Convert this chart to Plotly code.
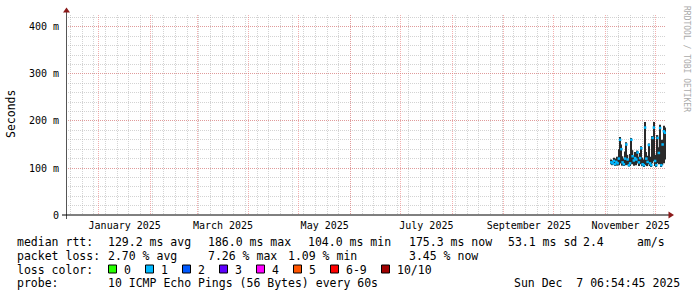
import plotly.graph_objects as go
import pandas as pd

# ---------------- data ----------------
end_time = pd.Timestamp('2025-12-07 06:54:45')
start_time = end_time - pd.Timedelta(days=360)

step_times = pd.date_range('2025-11-04 12:00', periods=44, freq='18h')
median_ms = [112, 110, 115, 108, 113, 110, 120, 160, 140, 112, 108, 120, 150, 118, 106,
             110, 160, 125, 116, 121, 118, 133, 112, 121, 142, 108, 106, 186, 120, 113,
             149, 110, 106, 164, 186, 115, 106, 164, 132, 185, 106, 150, 178, 175]
smoke_lo_ms = [108, 106, 108, 104, 107, 105, 106, 110, 110, 105, 104, 106, 108, 106, 103,
               104, 110, 108, 105, 108, 106, 110, 104, 108, 110, 104, 102, 112, 106, 104,
               108, 104, 102, 110, 115, 104, 102, 110, 108, 112, 102, 106, 110, 118]
smoke_hi_ms = [118, 116, 122, 118, 120, 124, 140, 166, 150, 125, 120, 135, 155, 128, 118,
               130, 164, 138, 126, 134, 130, 137, 124, 132, 146, 122, 118, 198, 134, 126,
               152, 124, 118, 168, 198, 128, 118, 170, 144, 192, 120, 160, 190, 186]
loss_pings = [1, 1, 1, 1, 1, 1, 1, 1, 1, 1, 1, 1, 1, 1, 1, 1, 1, 1, 1, 1, 1, 1,
              1, 1, 1, 1, 1, 1, 1, 1, 1, 1, 1, 1, 1, 1, 1, 1, 1, 1, 1, 1, 1, 1]

y_tick_vals = [0, 100, 200, 300, 400]
y_tick_text = ["0", "100 m", "200 m", "300 m", "400 m"]
month_label_text = ["January 2025", "March 2025", "May 2025", "July 2025",
                    "September 2025", "November 2025"]
month_label_months = ['2025-01-01', '2025-03-01', '2025-05-01', '2025-07-01',
                      '2025-09-01', '2025-11-01']

loss_color_labels = ["0", "1", "2", "3", "4", "5", "6-9", "10/10"]
loss_color_values = ["#26ff00", "#00b8ff", "#0059ff", "#5e00ff", "#ff00ff",
                     "#ff5500", "#ff0000", "#a10000"]
loss_color_of_count = {0: 0, 1: 1, 2: 2, 3: 3, 4: 4, 5: 5, 6: 6, 7: 6, 8: 6, 9: 6, 10: 7}

legend_line1 = ["median rtt:", "129.2 ms avg", "186.0 ms max", "104.0 ms min",
                "175.3 ms now", "53.1 ms sd", "2.4", "am/s"]
legend_line2 = ["packet loss:", "2.70 % avg", "7.26 % max", "1.09 % min", "3.45 % now"]
legend_line3_head = "loss color:"
legend_line4 = ["probe:", "10 ICMP Echo Pings (56 Bytes) every 60s"]
stamp_text = "Sun Dec\u00a0\u00a07 06:54:45 2025"

# ---------------- layout geometry ----------------
W, H = 697, 297
L, R, T, B = 66, 31, 15, 82
PW, PH = W - L - R, H - T - B
FONT = "DejaVu Sans Mono"
LEG = 11.5


def px_x(p):
    return (p - L) / PW


def px_y(p):
    return (T + PH - p) / PH


fig = go.Figure()

# smoke
fig.add_trace(go.Bar(
    x=step_times, base=smoke_lo_ms,
    y=[h - l for h, l in zip(smoke_hi_ms, smoke_lo_ms)],
    width=18 * 3600 * 1000, marker=dict(color="#2a2a2a", line=dict(width=0)),
    hoverinfo='skip', showlegend=False))

# median markers coloured by loss
fig.add_trace(go.Scatter(
    x=step_times, y=median_ms, mode='markers',
    marker=dict(symbol='square', size=2.5, line=dict(width=0),
                color=[loss_color_values[loss_color_of_count[c]] for c in loss_pings]),
    hoverinfo='skip', showlegend=False))

# invisible trace for label axis
fig.add_trace(go.Scatter(x=[start_time, end_time], y=[0, 0], xaxis='x2', mode='lines',
                         line=dict(width=0), hoverinfo='skip', showlegend=False))

month_starts = pd.date_range('2025-01-01', '2025-12-01', freq='MS')
week_lines = pd.date_range('2024-12-15', '2025-12-07', freq='7D')
label_pos = []
for m in month_label_months:
    ms = pd.Timestamp(m)
    me = ms + pd.offsets.MonthBegin(1)
    label_pos.append(ms + (me - ms) / 2)

red_grid = "rgba(235,110,110,0.55)"
grey_grid = "rgba(175,175,175,0.55)"
dash = "1px,1px"

fig.update_layout(
    width=W, height=H, margin=dict(l=L, r=R, t=T, b=B, pad=0),
    paper_bgcolor='white', plot_bgcolor='white', barmode='overlay',
    font=dict(family=FONT, size=10, color='black'),
    xaxis=dict(range=[start_time, end_time], tickmode='array', tickvals=month_starts,
               showticklabels=False, showgrid=True, gridcolor=red_grid, griddash=dash,
               gridwidth=1, ticks='', zeroline=False, showline=False,
               minor=dict(tickmode='array', tickvals=week_lines, showgrid=True,
                          gridcolor=grey_grid, griddash=dash, gridwidth=1, ticks='')),
    xaxis2=dict(range=[start_time, end_time], overlaying='x', anchor='y', side='bottom',
                tickmode='array', tickvals=label_pos, ticktext=month_label_text,
                showgrid=False, ticks='', ticklabelstandoff=3,
                tickfont=dict(family=FONT, size=10, color='black'), zeroline=False,
                showline=False),
    yaxis=dict(range=[0, 425.5], tickmode='array', tickvals=y_tick_vals,
               ticktext=y_tick_text, showgrid=True, gridcolor=red_grid, griddash=dash,
               ticks='outside', ticklen=4, tickcolor='rgba(0,0,0,0)',
               tickfont=dict(family=FONT, size=10, color='black'),
               zeroline=False, showline=False,
               minor=dict(tickmode='array', tickvals=list(range(20, 425, 20)),
                          showgrid=True, gridcolor=grey_grid, griddash=dash, ticks='')),
)

shapes = []
# axis lines
shapes.append(dict(type='line', xref='paper', yref='paper', x0=px_x(66.5), x1=px_x(66.5),
                   y0=px_y(219), y1=px_y(12), line=dict(color='#555555', width=1)))
shapes.append(dict(type='line', xref='paper', yref='paper', x0=px_x(62), x1=px_x(669),
                   y0=px_y(215), y1=px_y(215), line=dict(color='#000000', width=1)))
# arrows
arrow_col = '#8b1a1a'
shapes.append(dict(type='path', xref='paper', yref='paper',
                   path=f"M {px_x(66.5)},{px_y(7.5)} L {px_x(63)},{px_y(12.5)} L {px_x(70)},{px_y(12.5)} Z",
                   fillcolor=arrow_col, line=dict(width=0)))
shapes.append(dict(type='path', xref='paper', yref='paper',
                   path=f"M {px_x(674)},{px_y(215)} L {px_x(668.5)},{px_y(211.5)} L {px_x(668.5)},{px_y(218.5)} Z",
                   fillcolor=arrow_col, line=dict(width=0)))

annotations = []


def text_at(px, py, s, size=LEG, anchor='left', color='black'):
    annotations.append(dict(xref='paper', yref='paper', x=px_x(px), y=px_y(py), text=s,
                            showarrow=False, xanchor=anchor, yanchor='middle',
                            borderpad=0, font=dict(family=FONT, size=size, color=color)))


line1_x = [16, 107, 207, 307, 407.5, 507, 582, 635.5]
for s, xp in zip(legend_line1, line1_x):
    text_at(xp, 241.5, s)
line2_x = [16, 107, 207, 287, 407.5]
for s, xp in zip(legend_line2, line2_x):
    text_at(xp, 255.5, s)
text_at(16, 269.5, legend_line3_head)
box_x = [108.5, 145.5, 182.5, 219.5, 256.5, 293.5, 330.5, 381.5]
for lab, col, bx in zip(loss_color_labels, loss_color_values, box_x):
    shapes.append(dict(type='rect', xref='paper', yref='paper', x0=px_x(bx), x1=px_x(bx + 8),
                       y0=px_y(273), y1=px_y(265), fillcolor=col,
                       line=dict(color='black', width=1)))
    text_at(bx + 14, 269.5, lab)
line4_x = [16, 107]
for s, xp in zip(legend_line4, line4_x):
    text_at(xp, 283, s)
text_at(681, 283, stamp_text, anchor='right')

# y axis title
annotations.append(dict(xref='paper', yref='paper', x=px_x(11), y=px_y(114), text="Seconds",
                        showarrow=False, textangle=-90, xanchor='center', yanchor='middle',
                        font=dict(family=FONT, size=11.5, color='black')))
# watermark
annotations.append(dict(xref='paper', yref='paper', x=px_x(686), y=px_y(59),
                        text="RRDTOOL / TOBI OETIKER", showarrow=False, textangle=90,
                        xanchor='center', yanchor='middle',
                        font=dict(family=FONT, size=8, color='#aaaaaa')))

fig.update_layout(shapes=shapes, annotations=annotations)
fig.write_html("out.html")
